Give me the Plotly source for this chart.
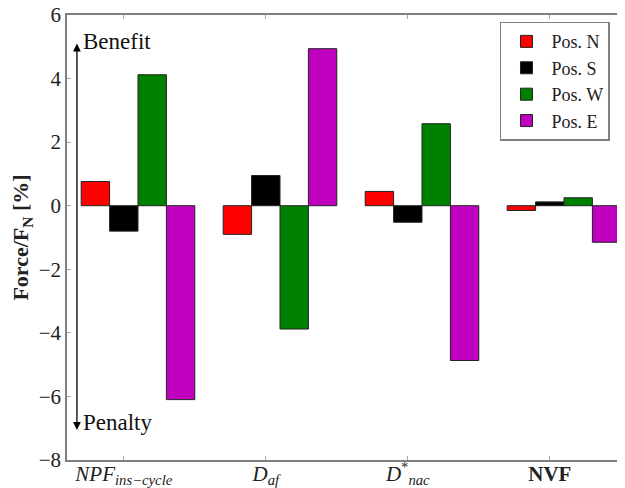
import plotly.graph_objects as go

categories = ["<i>NPF</i><sub><i>ins−cycle</i></sub>",
              "<i>D</i><sub><i>af</i></sub>",
              "<i>D</i><sup>*</sup><sub><i>nac</i></sub>",
              "<b>NVF</b>"]
series_names = ["Pos. N", "Pos. S", "Pos. W", "Pos. E"]
pos_n = [0.76, -0.90, 0.45, -0.15]
pos_s = [-0.80, 0.95, -0.52, 0.12]
pos_w = [4.12, -3.88, 2.58, 0.25]
pos_e = [-6.10, 4.94, -4.87, -1.15]
colors = ["#ff0000", "#000000", "#008000", "#bf00bf"]
y_ticks = [6, 4, 2, 0, -2, -4, -6, -8]

FONT = "Liberation Serif"
bar_w = 0.2
idx = list(range(len(categories)))

fig = go.Figure()
for k, (name, vals, col) in enumerate(zip(series_names, [pos_n, pos_s, pos_w, pos_e], colors)):
    fig.add_trace(go.Bar(
        x=[i + (k - 1) * bar_w for i in idx], y=vals, width=bar_w, name=name,
        marker=dict(color=col, line=dict(color="#222222", width=1)),
    ))

fig.update_layout(
    width=625, height=488,
    margin=dict(l=59, r=0, t=7, b=36, autoexpand=False),
    paper_bgcolor="white", plot_bgcolor="white",
    barmode="overlay",
    font=dict(family=FONT, color="#222222", size=17),
    showlegend=True,
    legend=dict(x=0.765, y=0.985, xanchor="left", yanchor="top",
                bordercolor="#808080", borderwidth=1.5, bgcolor="white",
                font=dict(family=FONT, size=18), itemwidth=40,
                tracegroupgap=0),
)
fig.update_xaxes(
    range=[-0.4, 3.586], tickmode="array", tickvals=idx, ticktext=categories,
    showline=True, linecolor="#808080", linewidth=1.5, mirror="ticks",
    ticks="inside", ticklen=4, tickcolor="#aaaaaa",
    showgrid=False, zeroline=False, tickfont=dict(size=21, family=FONT),
    ticklabeloverflow="allow", automargin=False, ticklabelstandoff=-6,
)
fig.update_yaxes(
    range=[-8, 6], tickmode="array", tickvals=y_ticks,
    ticktext=[str(v).replace("-", "−") for v in y_ticks],
    showline=True, linecolor="#808080", linewidth=1.5,
    ticks="inside", ticklen=4, tickcolor="#aaaaaa",
    showgrid=False, zeroline=False, tickfont=dict(size=21, family=FONT),
    ticklabeloverflow="allow", automargin=False,
    title=dict(text="<b>Force/F<sub>N</sub> [%]</b>", font=dict(size=22, family=FONT), standoff=11),
)

arrow_x = -0.33
fig.add_annotation(x=arrow_x, y=5.1, ax=arrow_x, ay=-7.1, xref="x", yref="y",
                   axref="x", ayref="y", text="", showarrow=True,
                   arrowhead=2, arrowside="end+start", arrowsize=1.2,
                   arrowwidth=1.3, arrowcolor="black")
fig.add_annotation(x=arrow_x + 0.03, y=5.16, xref="x", yref="y", text="Benefit",
                   showarrow=False, xanchor="left", yanchor="middle",
                   font=dict(size=23, family=FONT, color="#111111"))
fig.add_annotation(x=arrow_x + 0.03, y=-6.82, xref="x", yref="y", text="Penalty",
                   showarrow=False, xanchor="left", yanchor="middle",
                   font=dict(size=23, family=FONT, color="#111111"))

fig.write_html("out.html")
